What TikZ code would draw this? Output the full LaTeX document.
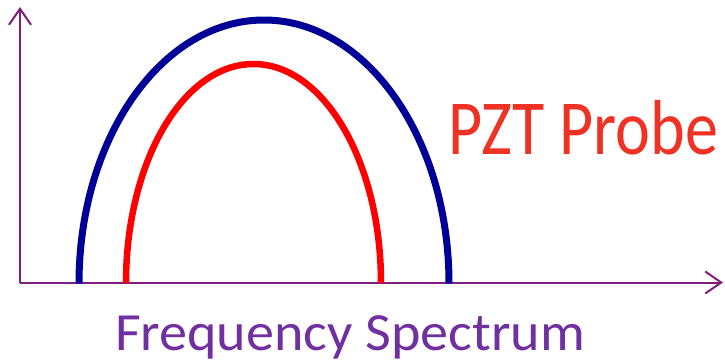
\documentclass[tikz,border=0pt]{standalone}
\usepackage{fontspec}
\setmainfont{Carlito}
\usepackage{graphicx}
\usetikzlibrary{arrows.meta}
\definecolor{axispurple}{RGB}{125,30,125}
\definecolor{textpurple}{RGB}{112,48,160}
\definecolor{textred}{RGB}{238,50,36}
\definecolor{arcblue}{RGB}{0,0,150}
\definecolor{arcred}{RGB}{255,0,0}
\tikzset{
  axisline/.style={draw=axispurple, line width=2pt, -{Straight Barb[length=16pt,width=22pt,line width=2pt]}},
  bluearc/.style={draw=arcblue, line width=7pt},
  redarc/.style={draw=arcred, line width=6.5pt},
  lbl/.style={anchor=base west, inner sep=0pt, outer sep=0pt}
}
\begin{document}
\begin{tikzpicture}[x=1pt,y=-1pt]
\useasboundingbox (0,0) rectangle (725,362);
\coordinate (origin) at (20,282.5);
\coordinate (ytip) at (20,7);
\coordinate (xtip) at (723,282.5);
\coordinate (bluefoot) at (79,283.5);
\coordinate (redfoot) at (126,283);
\draw[axisline] (origin) -- (ytip);
\draw[axisline] (origin) -- (xtip);
\draw[bluearc] (bluefoot) arc[start angle=180,end angle=0,x radius=185pt,y radius=263.5pt];
\draw[redarc] (redfoot) arc[start angle=180,end angle=0,x radius=127.5pt,y radius=219pt];
\node[lbl, text=textred] (probe) at (448,154.5) {\resizebox{270pt}{50pt}{\vphantom{P}\smash{PZT Probe}}};
\node[lbl, text=textpurple] (spectrum) at (115,350) {\resizebox{470pt}{34.5pt}{\vphantom{F}\smash{Frequency Spectrum}}};
\end{tikzpicture}
\end{document}
